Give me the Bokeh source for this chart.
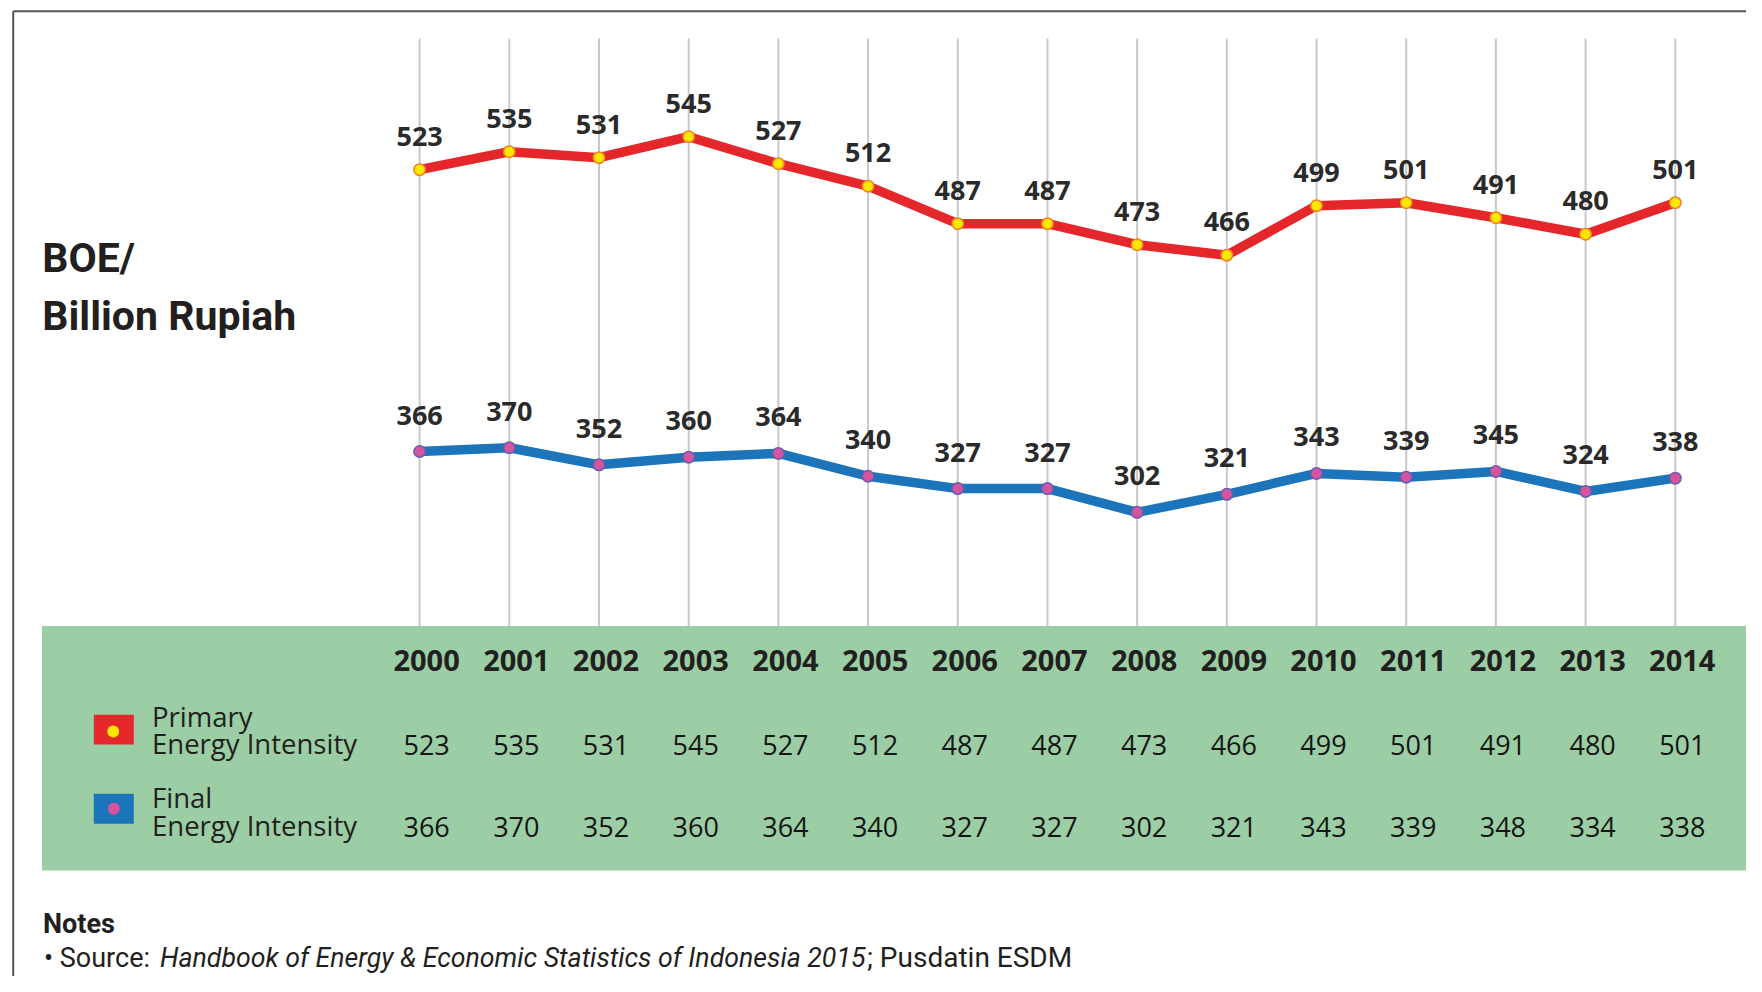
from bokeh.plotting import figure
from bokeh.models import Range1d, ColumnDataSource, LabelSet
from bokeh.core.properties import value
from bokeh.embed import file_html
from bokeh.resources import INLINE

# ---------------- data ----------------
years = [2000, 2001, 2002, 2003, 2004, 2005, 2006, 2007,
         2008, 2009, 2010, 2011, 2012, 2013, 2014]
year_labels = ["2000", "2001", "2002", "2003", "2004", "2005", "2006", "2007",
               "2008", "2009", "2010", "2011", "2012", "2013", "2014"]
# values plotted (and labelled) on the chart
primary_chart = [523, 535, 531, 545, 527, 512, 487, 487, 473, 466, 499, 501, 491, 480, 501]
final_chart = [366, 370, 352, 360, 364, 340, 327, 327, 302, 321, 343, 339, 345, 324, 338]
# values printed in the table
primary_table = [523, 535, 531, 545, 527, 512, 487, 487, 473, 466, 499, 501, 491, 480, 501]
final_table = [366, 370, 352, 360, 364, 340, 327, 327, 302, 321, 343, 339, 348, 334, 338]
series_names = ["Primary", "Final"]
unit_lines = ["BOE/", "Billion Rupiah"]

# ---------------- style ----------------
RED = "#E5262B"
BLUE = "#1C74BA"
YELLOW = "#FFE600"
PINK = "#D4559F"
GREEN = "#9BCEA4"
GRID = "#C9C9C9"
TXT = "#231F20"

W, H = 1746, 976
p = figure(width=W, height=H, x_range=Range1d(0, W), y_range=Range1d(H, 0),
           output_backend="svg", toolbar_location=None,
           x_axis_location=None, y_axis_location=None)
p.min_border_left = p.min_border_right = p.min_border_top = p.min_border_bottom = 0
p.outline_line_color = None
p.background_fill_color = "white"
p.border_fill_color = "white"
p.xgrid.visible = False
p.ygrid.visible = False
p.extra_x_ranges = {"year": Range1d(1995.327, 2014.794)}
p.extra_y_ranges = {"primary": Range1d(-14.84, 635.8), "final": Range1d(-186.2, 840.4)}

n = len(years)

# outer frame lines
p.segment(x0=[12.7, 12.7], y0=[10.7, 10.7], x1=[12.7, W], y1=[H, 10.7],
          line_color="#555555", line_width=2)

# green table band
p.quad(left=[41.5], right=[1748.3], top=[625.5], bottom=[870.0],
       fill_color=GREEN, line_color=None)

# vertical year guides
p.segment(x0=years, y0=[38] * n, x1=years, y1=[625.5] * n,
          x_range_name="year", line_color=GRID, line_width=2)

# lines
p.line(years, primary_chart, x_range_name="year", y_range_name="primary",
       line_color=RED, line_width=9.5, line_join="round")
p.scatter(years, primary_chart, x_range_name="year", y_range_name="primary",
          size=11.5, fill_color=YELLOW, line_color="#F08020", line_width=1.5)
p.line(years, final_chart, x_range_name="year", y_range_name="final",
       line_color=BLUE, line_width=9.5, line_join="round")
p.scatter(years, final_chart, x_range_name="year", y_range_name="final",
          size=11.5, fill_color=PINK, line_color="#6A5AB0", line_width=1.5)

# point labels
src_p = ColumnDataSource(dict(x=years, y=primary_chart, t=[str(v) for v in primary_chart]))
src_f = ColumnDataSource(dict(x=years, y=final_chart, t=[str(v) for v in final_chart]))
for src, rn, off in ((src_p, "primary", 24), (src_f, "final", 27)):
    p.add_layout(LabelSet(x="x", y="y", text="t", source=src,
                          x_range_name="year", y_range_name=rn,
                          y_offset=off, text_align="center", text_baseline="alphabetic",
                          text_font=value("Open Sans"), text_font_style="bold",
                          text_font_size="27px", text_color="#2A2A2A"))

# table rows
src_years = ColumnDataSource(dict(x=years, y=[670.5] * n, t=year_labels))
src_tp = ColumnDataSource(dict(x=years, y=[754] * n, t=[str(v) for v in primary_table]))
src_tf = ColumnDataSource(dict(x=years, y=[836.5] * n, t=[str(v) for v in final_table]))
p.add_layout(LabelSet(x="x", y="y", text="t", source=src_years, x_range_name="year",
                      x_offset=7, text_align="center", text_baseline="alphabetic",
                      text_font=value("Open Sans"), text_font_style="bold",
                      text_font_size="29px", text_color=TXT))
for src in (src_tp, src_tf):
    p.add_layout(LabelSet(x="x", y="y", text="t", source=src, x_range_name="year",
                          x_offset=7, text_align="center", text_baseline="alphabetic",
                          text_font=value("Open Sans"), text_font_style="normal",
                          text_font_size="27px", text_color="#151515"))

# legend swatches
p.quad(left=[93.3, 93.3], right=[133.3, 133.3], top=[714.3, 793.3], bottom=[744.0, 823.3],
       fill_color=[RED, BLUE], line_color=None)
p.scatter(x=[112.7, 113.3], y=[731.0, 808.3], size=12,
          fill_color=[YELLOW, PINK], line_color=None)

def txt(x, y, s, size, font="Open Sans", style="normal", color=TXT):
    src = ColumnDataSource(dict(x=[x], y=[y], t=[s]))
    p.add_layout(LabelSet(x="x", y="y", text="t", source=src,
                          text_font=value(font), text_font_style=style,
                          text_font_size=size, text_color=color,
                          text_align="left", text_baseline="alphabetic"))

txt(151.5, 726.7, series_names[0], "27.5px")
txt(151.5, 753.3, "Energy Intensity", "27.5px")
txt(151.5, 807.3, series_names[1], "27.5px")
txt(151.5, 835.0, "Energy Intensity", "27.5px")

# unit title
txt(41.8, 271.7, unit_lines[0], "41px", font="Roboto", style="bold")
txt(41.8, 329.3, unit_lines[1], "41px", font="Roboto", style="bold")

# notes
txt(42.5, 932.7, "Notes", "27px", font="Roboto", style="bold")
txt(43.5, 966.0, "\u2022 Source:", "27px", font="Roboto")
txt(159.5, 966.0, "Handbook of Energy & Economic Statistics of Indonesia 2015", "26.7px",
    font="Roboto", style="italic")
txt(866.5, 966.0, "; Pusdatin ESDM", "28px", font="Roboto")

open("out.html", "w").write(file_html(p, INLINE))
